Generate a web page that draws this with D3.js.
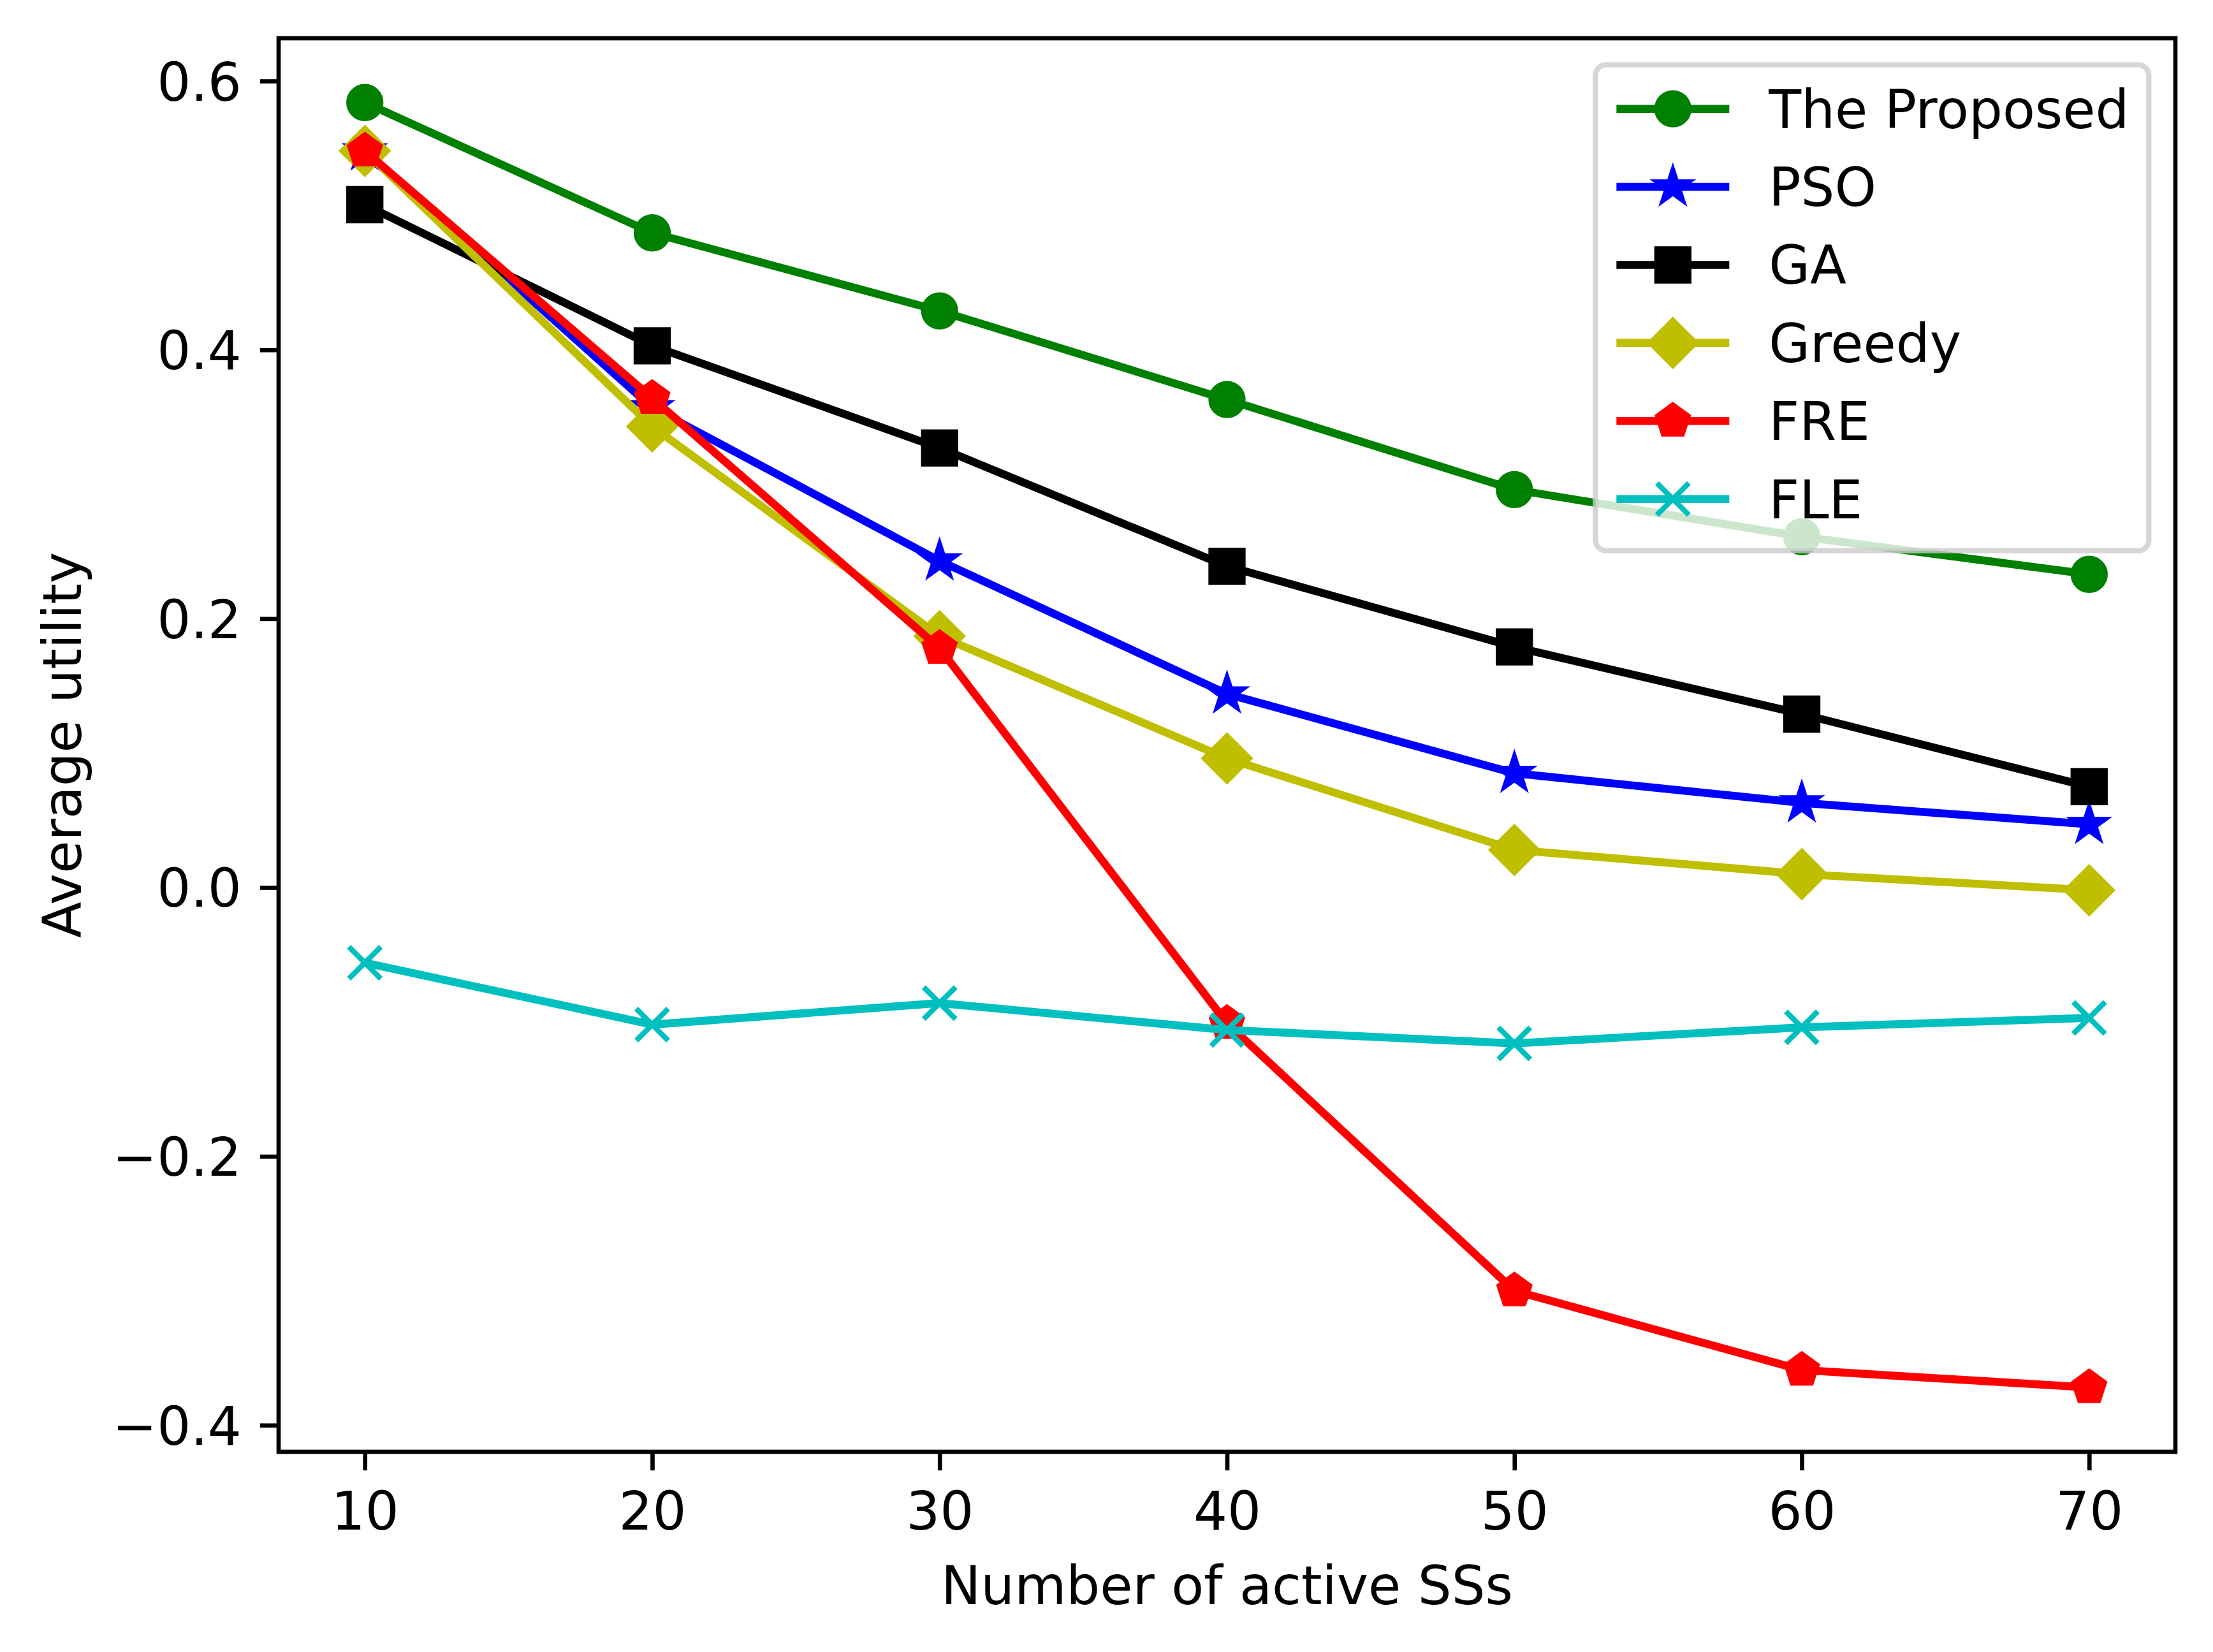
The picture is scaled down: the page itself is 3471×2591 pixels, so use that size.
<!DOCTYPE html>
<html>
<head>
<meta charset="utf-8">
<script src="https://cdn.jsdelivr.net/npm/d3@7"></script>
<style>
  html, body { margin: 0; padding: 0; background: #ffffff; }
  svg { display: block; }
  text { font-family: "DejaVu Sans", sans-serif; }
</style>
</head>
<body>
<svg id="chart" width="3471" height="2591"></svg>
<script>
// ---------------- data ----------------
const xValues = [10, 20, 30, 40, 50, 60, 70];
const seriesNames = ["The Proposed", "PSO", "GA", "Greedy", "FRE", "FLE"];
const proposed = [0.584, 0.487, 0.429, 0.363, 0.296, 0.261, 0.233];
const pso      = [0.548, 0.357, 0.243, 0.144, 0.085, 0.063, 0.047];
const ga       = [0.508, 0.403, 0.327, 0.239, 0.179, 0.129, 0.075];
const greedy   = [0.548, 0.343, 0.187, 0.096, 0.028, 0.010, -0.002];
const fre      = [0.548, 0.364, 0.178, -0.101, -0.300, -0.359, -0.372];
const fle      = [-0.056, -0.102, -0.086, -0.106, -0.116, -0.104, -0.097];
const seriesColors  = ["#008000", "#0000ff", "#000000", "#bfbf00", "#ff0000", "#00bfbf"];
const seriesMarkers = ["circle", "star", "square", "diamond", "pentagon", "x"];
const xTickValues = [10, 20, 30, 40, 50, 60, 70];
const xTickLabels = ["10", "20", "30", "40", "50", "60", "70"];
const yTickValues = [-0.4, -0.2, 0.0, 0.2, 0.4, 0.6];
const yTickLabels = ["\u22120.4", "\u22120.2", "0.0", "0.2", "0.4", "0.6"];
const xLabel = "Number of active SSs";
const yLabel = "Average utility";

const seriesValues = [proposed, pso, ga, greedy, fre, fle];

// ---------------- layout ----------------
const plot = { left: 437, right: 3412, top: 60, bottom: 2277 };
const PT = 600 / 72;               // pixels per point
const fontPx = 10 * PT;
const lineW = 1.5 * PT;
const markerSize = 6 * PT;
const markerEdge = 1.0 * PT;
const spineW = 0.8 * PT;
const tickLen = 3.5 * PT;
const tickPad = 3.5 * PT;

const svg = d3.select("#chart");

// scales with matplotlib-like 5% margins
const xExt = d3.extent(xValues);
const xm = (xExt[1] - xExt[0]) * 0.05;
const allY = seriesValues.flat();
const yExt = d3.extent(allY);
const ym = (yExt[1] - yExt[0]) * 0.05;

const x = d3.scaleLinear().domain([xExt[0] - xm, xExt[1] + xm]).range([plot.left, plot.right]);
const y = d3.scaleLinear().domain([yExt[0] - ym, yExt[1] + ym]).range([plot.bottom, plot.top]);

// ---------------- marker paths ----------------
function markerPath(type, s) {
  const h = s / 2;
  if (type === "circle") {
    const p = d3.path(); p.arc(0, 0, h, 0, 2 * Math.PI); p.closePath(); return p.toString();
  }
  if (type === "square") {
    return `M${-h},${-h}L${h},${-h}L${h},${h}L${-h},${h}Z`;
  }
  if (type === "diamond") {
    const d = h * Math.SQRT2;
    return `M0,${-d}L${d},0L0,${d}L${-d},0Z`;
  }
  if (type === "pentagon") {
    const pts = [];
    for (let i = 0; i < 5; i++) {
      const a = -Math.PI / 2 + i * 2 * Math.PI / 5;
      pts.push([h * Math.cos(a), h * Math.sin(a)]);
    }
    return "M" + pts.map(p => p.join(",")).join("L") + "Z";
  }
  if (type === "star") {
    const pts = [];
    const inner = h * 0.381966;
    for (let i = 0; i < 10; i++) {
      const a = -Math.PI / 2 + i * Math.PI / 5;
      const r = i % 2 === 0 ? h : inner;
      pts.push([r * Math.cos(a), r * Math.sin(a)]);
    }
    return "M" + pts.map(p => p.join(",")).join("L") + "Z";
  }
  if (type === "x") {
    return `M${-h},${-h}L${h},${h}M${-h},${h}L${h},${-h}`;
  }
  return "";
}

function drawMarker(g, type, color, cx, cy) {
  const p = g.append("path")
    .attr("d", markerPath(type, markerSize))
    .attr("transform", `translate(${cx},${cy})`)
    .attr("stroke", color)
    .attr("stroke-width", markerEdge)
    .attr("stroke-linejoin", "miter");
  if (type === "x") p.attr("fill", "none").attr("stroke-linecap", "butt");
  else p.attr("fill", color);
}

// ---------------- series ----------------
const plotG = svg.append("g");
const line = d3.line().x(d => x(d[0])).y(d => y(d[1]));

seriesValues.forEach((vals, i) => {
  const data = xValues.map((xv, j) => [xv, vals[j]]);
  const g = plotG.append("g");
  g.append("path")
    .attr("d", line(data))
    .attr("fill", "none")
    .attr("stroke", seriesColors[i])
    .attr("stroke-width", lineW)
    .attr("stroke-linejoin", "round")
    .attr("stroke-linecap", "square");
  data.forEach(d => drawMarker(g, seriesMarkers[i], seriesColors[i], x(d[0]), y(d[1])));
});

// ---------------- axes ----------------
const xAxis = d3.axisBottom(x).tickValues(xTickValues)
  .tickFormat((d, i) => xTickLabels[i]).tickSize(tickLen).tickPadding(tickPad);
const xg = svg.append("g").attr("transform", `translate(0,${plot.bottom})`).call(xAxis);
xg.select(".domain").remove();
xg.selectAll(".tick line").attr("stroke", "#000").attr("stroke-width", spineW);
xg.selectAll(".tick text").attr("fill", "#000").attr("font-size", fontPx)
  .attr("font-family", "DejaVu Sans").attr("dy", "0.76em");

const yAxis = d3.axisLeft(y).tickValues(yTickValues)
  .tickFormat((d, i) => yTickLabels[i]).tickSize(tickLen).tickPadding(tickPad);
const yg = svg.append("g").attr("transform", `translate(${plot.left},0)`).call(yAxis);
yg.select(".domain").remove();
yg.selectAll(".tick line").attr("stroke", "#000").attr("stroke-width", spineW);
yg.selectAll(".tick text").attr("fill", "#000").attr("font-size", fontPx)
  .attr("font-family", "DejaVu Sans").attr("dy", "0.36em");

// frame (spines)
svg.append("rect")
  .attr("x", plot.left).attr("y", plot.top)
  .attr("width", plot.right - plot.left).attr("height", plot.bottom - plot.top)
  .attr("fill", "none").attr("stroke", "#000").attr("stroke-width", spineW)
  .attr("stroke-linejoin", "miter");

// axis labels
svg.append("text")
  .attr("x", (plot.left + plot.right) / 2).attr("y", plot.bottom + 239)
  .attr("text-anchor", "middle").attr("font-size", fontPx).attr("fill", "#000")
  .text(xLabel);
svg.append("text")
  .attr("transform", `translate(127,${(plot.top + plot.bottom) / 2}) rotate(-90)`)
  .attr("text-anchor", "middle").attr("font-size", fontPx).attr("fill", "#000")
  .text(yLabel);

// ---------------- legend ----------------
const legW = 868, legH = 762;
const legRight = plot.right - 0.5 * fontPx;
const legTop = plot.top + 0.5 * fontPx;
const legLeft = legRight - legW;
const legG = svg.append("g");
legG.append("rect")
  .attr("x", legLeft).attr("y", legTop).attr("width", legW).attr("height", legH)
  .attr("rx", 0.2 * fontPx).attr("ry", 0.2 * fontPx)
  .attr("fill", "#ffffff").attr("fill-opacity", 0.8)
  .attr("stroke", "#cccccc").attr("stroke-opacity", 0.8).attr("stroke-width", 1.0 * PT);

const rowStep = 122.4;
const firstRow = legTop + 69;
seriesNames.forEach((name, i) => {
  const cy = firstRow + i * rowStep;
  const hx0 = legLeft + 33, hx1 = legLeft + 210;
  legG.append("line")
    .attr("x1", hx0).attr("x2", hx1).attr("y1", cy).attr("y2", cy)
    .attr("stroke", seriesColors[i]).attr("stroke-width", lineW);
  drawMarker(legG, seriesMarkers[i], seriesColors[i], (hx0 + hx1) / 2, cy);
  legG.append("text")
    .attr("x", legLeft + 272).attr("y", cy + 30)
    .attr("font-size", fontPx).attr("fill", "#000")
    .text(name);
});
</script>
</body>
</html>
